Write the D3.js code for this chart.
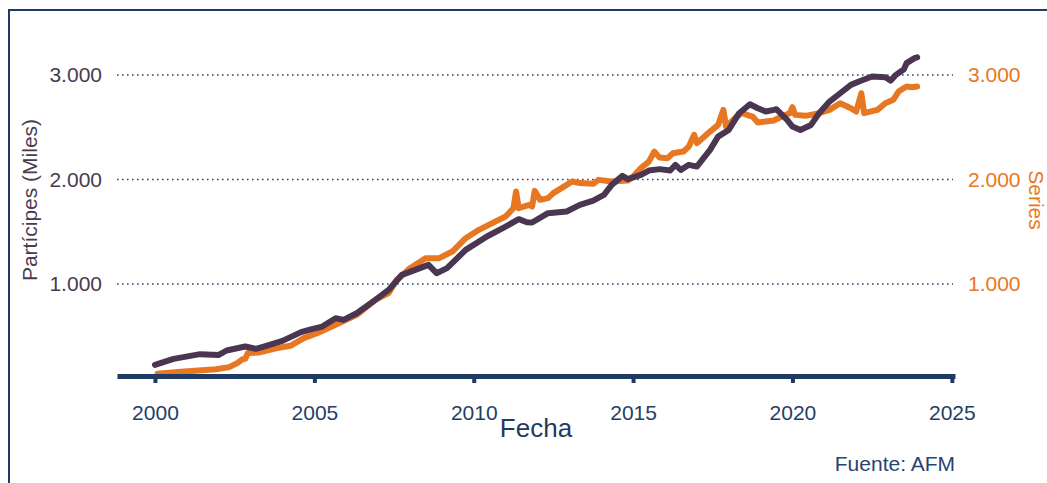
<!DOCTYPE html>
<html>
<head>
<meta charset="utf-8">
<script src="https://cdn.jsdelivr.net/npm/d3@7"></script>
<style>
  body {
    margin: 0;
    background: #fff;
  }
  svg {
    display: block;
    font-family: Arial, 'Liberation Sans', sans-serif;
  }
  .grid line {
    stroke: #34456a;
    stroke-width: 1.6;
    stroke-dasharray: 1.6 3.4;
  }
  .axis-x .domain {
    stroke: #1f3b63;
    stroke-width: 5;
  }
  .axis-x .tick line {
    stroke: #1f3b63;
    stroke-width: 4;
  }
  .axis-x text {
    fill: #243e66;
    font-size: 21px;
  }
  .axis-y .domain,
  .axis-y2 .domain {
    display: none;
  }
  .axis-y text {
    fill: #4b3b51;
    font-size: 21px;
  }
  .axis-y2 text {
    fill: #e87722;
    font-size: 21px;
  }
</style>
</head>
<body>
<div id="chart"></div>
<script>
// Partícipes (miles), lectura mensual aproximada
const participesFechas = [
  '2000-01', '2000-08', '2001-06', '2002-01', '2002-04', '2002-11', '2003-03', '2003-06',
  '2004-01', '2004-08', '2004-12', '2005-04', '2005-09', '2005-12', '2006-05', '2006-12',
  '2007-05', '2007-10', '2008-08', '2008-11', '2009-03', '2009-10', '2010-06', '2011-01',
  '2011-06', '2011-09', '2011-11', '2012-05', '2012-12', '2013-05', '2013-10', '2014-02',
  '2014-05', '2014-09', '2014-11', '2015-04', '2015-07', '2015-11', '2016-03', '2016-05',
  '2016-07', '2016-10', '2017-01', '2017-06', '2017-09', '2018-01', '2018-05', '2018-09',
  '2018-12', '2019-03', '2019-06', '2019-07', '2019-11', '2020-01', '2020-04', '2020-08',
  '2020-11', '2021-03', '2021-07', '2021-11', '2022-02', '2022-07', '2022-12', '2023-02',
  '2023-04', '2023-07', '2023-08', '2023-11', '2023-12',
]
const participesValores = [
  227, 284, 329, 322, 364, 402, 380, 402,
  456, 540, 568, 593, 673, 657, 721, 849,
  944, 1088, 1184, 1104, 1152, 1327, 1455, 1550,
  1621, 1592, 1589, 1678, 1694, 1758, 1799, 1854,
  1949, 2035, 2004, 2045, 2086, 2100, 2086, 2141,
  2093, 2141, 2124, 2284, 2411, 2475, 2635, 2721,
  2683, 2651, 2667, 2673, 2571, 2507, 2475, 2523,
  2635, 2746, 2826, 2906, 2938, 2986, 2980, 2947,
  3002, 3056, 3114, 3162, 3170,
]

// Series (eje derecho)
const seriesFechas = [
  '2000-02', '2000-12', '2001-12', '2002-05', '2002-08', '2002-10', '2002-11', '2002-12',
  '2003-04', '2003-11', '2004-04', '2004-09', '2005-02', '2005-09', '2006-05', '2006-12',
  '2007-05', '2007-08', '2007-11', '2008-01', '2008-07', '2008-12', '2009-05', '2009-10',
  '2010-03', '2010-08', '2011-01', '2011-04', '2011-05', '2011-06', '2011-10', '2011-11',
  '2011-12', '2012-02', '2012-05', '2012-07', '2012-12', '2013-02', '2013-05', '2013-10',
  '2013-12', '2014-05', '2014-11', '2015-01', '2015-04', '2015-07', '2015-09', '2015-11',
  '2016-02', '2016-04', '2016-08', '2016-10', '2016-12', '2017-01', '2017-06', '2017-09',
  '2017-11', '2017-12', '2018-04', '2018-06', '2018-10', '2018-12', '2019-06', '2019-09',
  '2019-12', '2020-01', '2020-02', '2020-06', '2020-11', '2021-03', '2021-07', '2021-11',
  '2022-01', '2022-03', '2022-04', '2022-09', '2022-12', '2023-03', '2023-05', '2023-08',
  '2023-10', '2023-12',
]
const seriesValores = [
  141, 163, 185, 205, 243, 281, 284, 339,
  345, 387, 409, 482, 530, 610, 705, 849,
  913, 1040, 1104, 1152, 1248, 1248, 1311, 1439,
  1519, 1583, 1646, 1726, 1885, 1726, 1758, 1742,
  1892, 1806, 1822, 1870, 1949, 1981, 1966, 1959,
  1997, 1981, 1991, 2029, 2109, 2172, 2268, 2210,
  2205, 2252, 2268, 2316, 2428, 2348, 2459, 2523,
  2667, 2507, 2603, 2635, 2603, 2546, 2565, 2603,
  2635, 2693, 2619, 2610, 2635, 2667, 2731, 2683,
  2651, 2826, 2635, 2667, 2731, 2763, 2842, 2890,
  2884, 2890,
]

const xTicks = [2000, 2005, 2010, 2015, 2020, 2025]
const yTicks = [1000, 2000, 3000]

const width = 1047
const height = 483
const parseFecha = d3.timeParse('%Y-%m')
const esFormat = d3.formatLocale({
  decimal: ',',
  thousands: '.',
  grouping: [3],
  currency: ['', ' €'],
}).format(',d')

const participes = participesFechas.map((f, i) => ({ fecha: parseFecha(f), valor: participesValores[i] }))
const series = seriesFechas.map((f, i) => ({ fecha: parseFecha(f), valor: seriesValores[i] }))

const svg = d3
  .select('#chart')
  .append('svg')
  .attr('width', width)
  .attr('height', height)
  .attr('viewBox', `0 0 ${width} ${height}`)

// marco exterior
svg
  .append('rect')
  .attr('x', 9)
  .attr('y', 10)
  .attr('width', width + 100)
  .attr('height', height + 100)
  .attr('fill', 'none')
  .attr('stroke', '#1f3b63')
  .attr('stroke-width', 2)

const x = d3
  .scaleTime()
  .domain([new Date(1998, 9, 23), new Date(2025, 1, 6)])
  .range([117, 955])

// mismo rango en ambos ejes
const y = d3.scaleLinear().domain([120, 3350]).range([376, 38.5])
const y2 = d3.scaleLinear().domain([120, 3350]).range([376, 38.5])

// rejilla punteada
svg
  .append('g')
  .attr('class', 'grid')
  .selectAll('line')
  .data(yTicks)
  .enter()
  .append('line')
  .attr('x1', x.range()[0])
  .attr('x2', x.range()[1] - 2)
  .attr('y1', (d) => y(d))
  .attr('y2', (d) => y(d))

svg
  .append('g')
  .attr('class', 'axis-y')
  .attr('transform', `translate(${x.range()[0]},0)`)
  .call(d3.axisLeft(y).tickValues(yTicks).tickSize(0).tickPadding(15).tickFormat(esFormat))

svg
  .append('g')
  .attr('class', 'axis-y2')
  .attr('transform', `translate(${x.range()[1]},0)`)
  .call(d3.axisRight(y2).tickValues(yTicks).tickSize(0).tickPadding(13).tickFormat(esFormat))

const line = (scale) =>
  d3
    .line()
    .x((d) => x(d.fecha))
    .y((d) => scale(d.valor))

svg
  .append('path')
  .datum(series)
  .attr('fill', 'none')
  .attr('stroke', '#e87722')
  .attr('stroke-width', 6)
  .attr('stroke-linejoin', 'round')
  .attr('stroke-linecap', 'round')
  .attr('d', line(y2))

svg
  .append('path')
  .datum(participes)
  .attr('fill', 'none')
  .attr('stroke', '#4a3651')
  .attr('stroke-width', 6)
  .attr('stroke-linejoin', 'round')
  .attr('stroke-linecap', 'round')
  .attr('d', line(y))

svg
  .append('g')
  .attr('class', 'axis-x')
  .attr('transform', `translate(0,${y.range()[0]})`)
  .call(
    d3
      .axisBottom(x)
      .tickValues(xTicks.map((d) => new Date(d, 0, 1)))
      .tickFormat(d3.timeFormat('%Y'))
      .tickSizeInner(7)
      .tickSizeOuter(0)
      .tickPadding(22)
  )

// títulos
svg
  .append('text')
  .attr('transform', 'translate(37,200) rotate(-90)')
  .attr('text-anchor', 'middle')
  .style('font-size', '21px')
  .attr('fill', '#4b3b51')
  .text('Partícipes (Miles)')

svg
  .append('text')
  .attr('transform', 'translate(1029,200) rotate(90)')
  .attr('text-anchor', 'middle')
  .style('font-size', '21px')
  .attr('fill', '#e87722')
  .text('Series')

svg
  .append('text')
  .attr('x', 536)
  .attr('y', 437)
  .attr('text-anchor', 'middle')
  .style('font-size', '26px')
  .attr('fill', '#1f3b63')
  .text('Fecha')

svg
  .append('text')
  .attr('x', 955)
  .attr('y', 471)
  .attr('text-anchor', 'end')
  .style('font-size', '21px')
  .attr('fill', '#2a4470')
  .text('Fuente: AFM')
</script>
</body>
</html>
